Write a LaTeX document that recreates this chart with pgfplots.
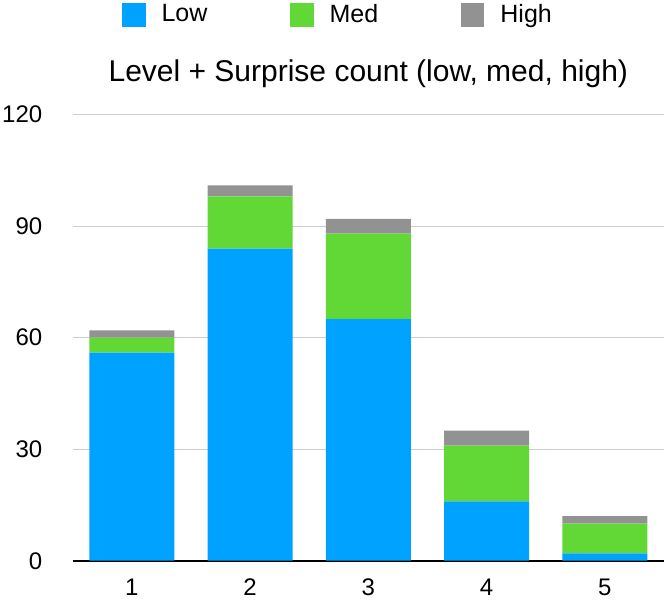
\documentclass[border=0pt]{standalone}
\usepackage{fontspec}
\setmainfont{Liberation Sans}
\usepackage{pgfplots}
\pgfplotsset{compat=1.18}
\definecolor{cLow}{HTML}{00A2FF}
\definecolor{cMed}{HTML}{61D836}
\definecolor{cHigh}{HTML}{929292}
\definecolor{cGrid}{HTML}{CCCCCC}
\begin{document}
\fontsize{12}{14.4}\selectfont
\begin{tikzpicture}
\begin{axis}[
  scale only axis, width=295.65pt, height=223pt,
  xmin=0.5, xmax=5.5, ymin=0, ymax=120,
  ybar stacked, bar width=42.5pt,
  clip=false,
  xtick={1,2,3,4,5}, ytick={0,30,60,90,120},
  ymajorgrids, grid style={cGrid, line width=0.7pt},
  axis line style={draw=none}, tick style={draw=none},
  font=\fontsize{12}{14.4}\selectfont,
  /pgf/number format/assume math mode=true,
  yticklabel style={xshift=-11pt},
  xticklabel style={yshift=-5pt},
  title={Level + Surprise count (low, med, high)},
  title style={at={(0.5,1.048)}, anchor=base, font=\fontsize{15}{18}\selectfont},
  legend columns=3,
  legend style={at={(0.0833,1.2235)}, anchor=west, draw=none, fill=none,
    inner xsep=0pt, inner ysep=0pt,
    font=\fontsize{12.5}{15}\selectfont,
    /tikz/every odd column/.append style={column sep=6pt},
    /tikz/every even column/.append style={column sep=39.5pt}},
  legend image code/.code={\fill[#1,draw=none] (0pt,-5.8pt) rectangle (11.6pt,5.8pt);},
]
\addplot[fill=cLow, draw=none] coordinates {(1,56) (2,84) (3,65) (4,16) (5,2)};
\addplot[fill=cMed, draw=none] coordinates {(1,4) (2,14) (3,23) (4,15) (5,8)};
\addplot[fill=cHigh, draw=none] coordinates {(1,2) (2,3) (3,4) (4,4) (5,2)};
\legend{Low,Med,High}
\draw[black, line width=1pt] (axis cs:0.5,0) -- (axis cs:5.5,0);
\coordinate (bl) at (rel axis cs:-0.1229,-0.0926);
\coordinate (tr) at (rel axis cs:1,1.2572);
\end{axis}
\pgfresetboundingbox
\useasboundingbox (bl) rectangle (tr);
\end{tikzpicture}
\end{document}
